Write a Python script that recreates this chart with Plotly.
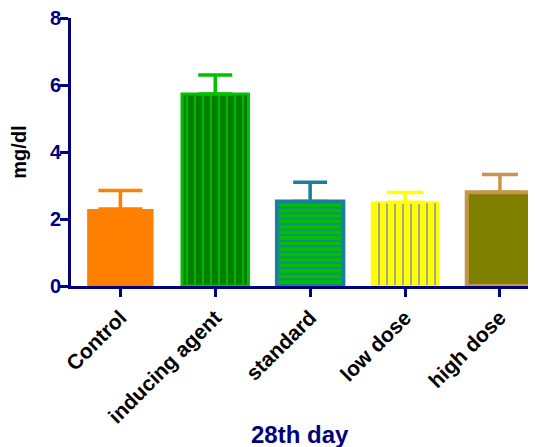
import plotly.graph_objects as go

categories = ["Control", "inducing agent", "standard", "low dose", "high dose"]
means = [2.30, 5.73, 2.52, 2.50, 2.80]
errors = [0.55, 0.57, 0.58, 0.29, 0.53]

fill_colors = ["#FF8000", "#007F00", "#00C000", "#FFFF00", "#808000"]
line_colors = ["#FF8000", "#00C000", "#1A7F9A", "#FFFF00", "#C8964B"]
err_colors = ["#FF8000", "#00C000", "#1A7F9A", "#FFFF00", "#C8964B"]
patterns = [
    dict(shape=""),
    dict(shape="|", fgcolor="#00C000", bgcolor="#007F00", size=8, solidity=0.22, fillmode="replace"),
    dict(shape="-", fgcolor="#1A7F9A", bgcolor="#00C000", size=5.5, solidity=0.28, fillmode="replace"),
    dict(shape="|", fgcolor="#6060FF", bgcolor="#FFFF00", size=8, solidity=0.14, fillmode="replace"),
    dict(shape=""),
]
line_widths = [0, 3, 4, 2, 4]
cap_widths = [22, 17, 17, 18, 18]

fig = go.Figure()
for i, c in enumerate(categories):
    fig.add_trace(go.Bar(
        x=[c], y=[means[i]], width=0.7,
        marker=dict(color=fill_colors[i], pattern=patterns[i],
                    line=dict(color=line_colors[i], width=line_widths[i])),
        error_y=dict(type="data", array=[errors[i]], arrayminus=[0], symmetric=False,
                     color=err_colors[i], thickness=3.5, width=cap_widths[i]),
        showlegend=False,
    ))

navy = "#000080"
fig.update_layout(
    width=536, height=447,
    barmode="overlay",
    plot_bgcolor="white", paper_bgcolor="white",
    margin=dict(l=63, r=8, t=10, b=169, autoexpand=False),
    font=dict(family="Liberation Sans, Arial, sans-serif"),
    xaxis=dict(
        range=[-0.52, 4.38],
        showline=True, linecolor=navy, linewidth=3,
        ticks="outside", tickcolor=navy, tickwidth=3, ticklen=8,
        tickangle=-45,
        tickfont=dict(size=21, color="black", weight="bold"),
        showgrid=False, zeroline=False,
    ),
    yaxis=dict(
        range=[0, 8], tickvals=[0, 2, 4, 6, 8],
        showline=True, linecolor=navy, linewidth=3,
        ticks="outside", tickcolor=navy, tickwidth=3, ticklen=8,
        ticklabeloverflow="allow", ticklabelstandoff=-5,
        tickfont=dict(size=20, color=navy, weight="bold"),
        title=dict(text="mg/dl", font=dict(size=20, color="black", weight="bold"), standoff=21),
        showgrid=False, zeroline=False,
    ),
    annotations=[dict(
        text="28th day", xref="paper", yref="paper", x=0.4925, y=-0.555,
        xanchor="center", yanchor="middle", showarrow=False,
        font=dict(size=24, color=navy, weight="bold"),
    )],
)

fig.write_html("out.html")
